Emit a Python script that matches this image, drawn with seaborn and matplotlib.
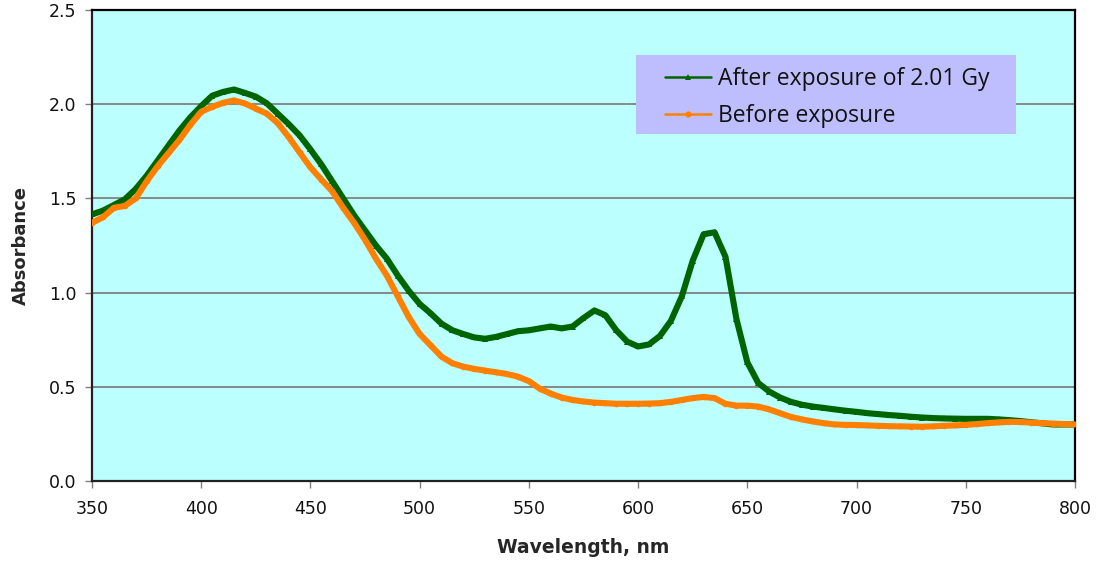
import numpy as np
import pandas as pd
import matplotlib
matplotlib.use("Agg")
import matplotlib.pyplot as plt
from matplotlib.lines import Line2D
from matplotlib.patches import Rectangle
import seaborn as sns

wavelength = list(range(350, 805, 5))

after_exposure = [
    1.415, 1.435, 1.465, 1.495, 1.55, 1.62, 1.70, 1.78, 1.86, 1.93,
    1.99, 2.045, 2.065, 2.078, 2.06, 2.04, 2.005, 1.95, 1.895, 1.835,
    1.76, 1.68, 1.59, 1.50, 1.41, 1.33, 1.25, 1.18, 1.09, 1.01,
    0.94, 0.89, 0.835, 0.80, 0.78, 0.762, 0.755, 0.765, 0.78, 0.795,
    0.80, 0.81, 0.82, 0.81, 0.82, 0.865, 0.905, 0.88, 0.80, 0.74,
    0.714, 0.725, 0.77, 0.85, 0.98, 1.17, 1.31, 1.32, 1.19, 0.86,
    0.63, 0.52, 0.475, 0.443, 0.42, 0.405, 0.395, 0.388, 0.38, 0.373,
    0.367, 0.36, 0.355, 0.35, 0.346, 0.341, 0.337, 0.334, 0.332, 0.331,
    0.33, 0.33, 0.33, 0.327, 0.323, 0.318, 0.312, 0.306, 0.30, 0.30,
    0.30,
]

before_exposure = [
    1.37, 1.40, 1.45, 1.46, 1.50, 1.59, 1.67, 1.74, 1.81, 1.89,
    1.96, 1.986, 2.007, 2.02, 2.004, 1.977, 1.95, 1.90, 1.826, 1.745,
    1.665, 1.60, 1.537, 1.45, 1.37, 1.28, 1.18, 1.09, 0.98, 0.87,
    0.78, 0.72, 0.66, 0.625, 0.607, 0.595, 0.586, 0.577, 0.568, 0.554,
    0.53, 0.49, 0.464, 0.443, 0.43, 0.422, 0.416, 0.413, 0.41, 0.41,
    0.41, 0.411, 0.413, 0.42, 0.43, 0.44, 0.446, 0.44, 0.41, 0.40,
    0.40, 0.395, 0.38, 0.36, 0.34, 0.327, 0.316, 0.307, 0.30, 0.298,
    0.297, 0.295, 0.293, 0.291, 0.29, 0.289, 0.288, 0.29, 0.293, 0.295,
    0.298, 0.302, 0.307, 0.311, 0.314, 0.313, 0.31, 0.307, 0.305, 0.302,
    0.30,
]

series_labels = ["After exposure of 2.01 Gy", "Before exposure"]
x_ticks = [350, 400, 450, 500, 550, 600, 650, 700, 750, 800]
y_ticks = [0.0, 0.5, 1.0, 1.5, 2.0, 2.5]

GREEN = "#006400"
ORANGE = "#FF8000"
BG = "#BBFFFF"
LEGEND_BG = "#BEBEFF"

sns.set_style("white", {"axes.facecolor": BG})
plt.rcParams["font.family"] = ["DejaVu Sans"]

W, H = 1099, 567
AX_L, AX_R, AX_T, AX_B = 92, 1075, 10, 481
fig = plt.figure(figsize=(W / 100, H / 100), dpi=100)
ax = fig.add_axes([AX_L / W, 1 - AX_B / H, (AX_R - AX_L) / W, (AX_B - AX_T) / H])
ax.set_facecolor(BG)


def ax_frac(px, py):
    return (px - AX_L) / (AX_R - AX_L), (AX_B - py) / (AX_B - AX_T)


df_after = pd.DataFrame({"wl": wavelength, "abs": after_exposure})
df_before = pd.DataFrame({"wl": wavelength, "abs": before_exposure})

sns.lineplot(data=df_after, x="wl", y="abs", ax=ax, color=GREEN, lw=4.4,
             marker="^", markersize=4.5, markeredgewidth=0, zorder=3)
sns.lineplot(data=df_before, x="wl", y="abs", ax=ax, color=ORANGE, lw=4.4,
             marker="o", markersize=4, markeredgewidth=0, zorder=4)

ax.set_xlim(350, 800)
ax.set_ylim(0, 2.5)
ax.set_xticks(x_ticks)
ax.set_yticks(y_ticks)
ax.set_xticklabels([str(t) for t in x_ticks])
ax.set_yticklabels([f"{t:.1f}" for t in y_ticks])
ax.yaxis.grid(True, color="#808080", lw=1.3)
ax.xaxis.grid(False)
ax.set_axisbelow(True)

ax.tick_params(axis="both", direction="out", length=5, width=1, color="#808080",
               labelsize=12.5, labelcolor="#111111")
ax.tick_params(axis="y", pad=6)
ax.tick_params(axis="x", pad=9)
ax.tick_params(left=True, bottom=True)

for side in ["left", "bottom"]:
    ax.spines[side].set_color("#222222")
    ax.spines[side].set_linewidth(1.6)
for side in ["top", "right"]:
    ax.spines[side].set_visible(True)
    ax.spines[side].set_color("#000000")
    ax.spines[side].set_linewidth(1.6)

ax.set_xlabel("Wavelength, nm", fontsize=13.5, fontweight="bold", labelpad=14)
ax.set_ylabel("Absorbance", fontsize=13, fontweight="bold", labelpad=14)

# legend background box
x0, y1 = ax_frac(636, 55)
x1, y0 = ax_frac(1016, 134)
ax.add_patch(Rectangle((x0, y0), x1 - x0, y1 - y0, transform=ax.transAxes,
                       facecolor=LEGEND_BG, edgecolor="none", zorder=5))

handles = [
    Line2D([0], [0], color=GREEN, lw=1.8, marker="^", markersize=4.5, markeredgewidth=0),
    Line2D([0], [0], color=ORANGE, lw=1.8, marker="o", markersize=4.5, markeredgewidth=0),
]
lx, ly = ax_frac(665, 67)
leg = ax.legend(handles, series_labels, loc="upper left", bbox_to_anchor=(lx, ly),
                frameon=False, handlelength=2.0, handletextpad=0.3,
                borderpad=0, labelspacing=0.58, borderaxespad=0,
                prop={"family": "Open Sans", "size": 16.5})
leg.set_zorder(6)
for t in leg.get_texts():
    t.set_color("#111111")

fig.savefig("out.png", dpi=100, facecolor="white")
